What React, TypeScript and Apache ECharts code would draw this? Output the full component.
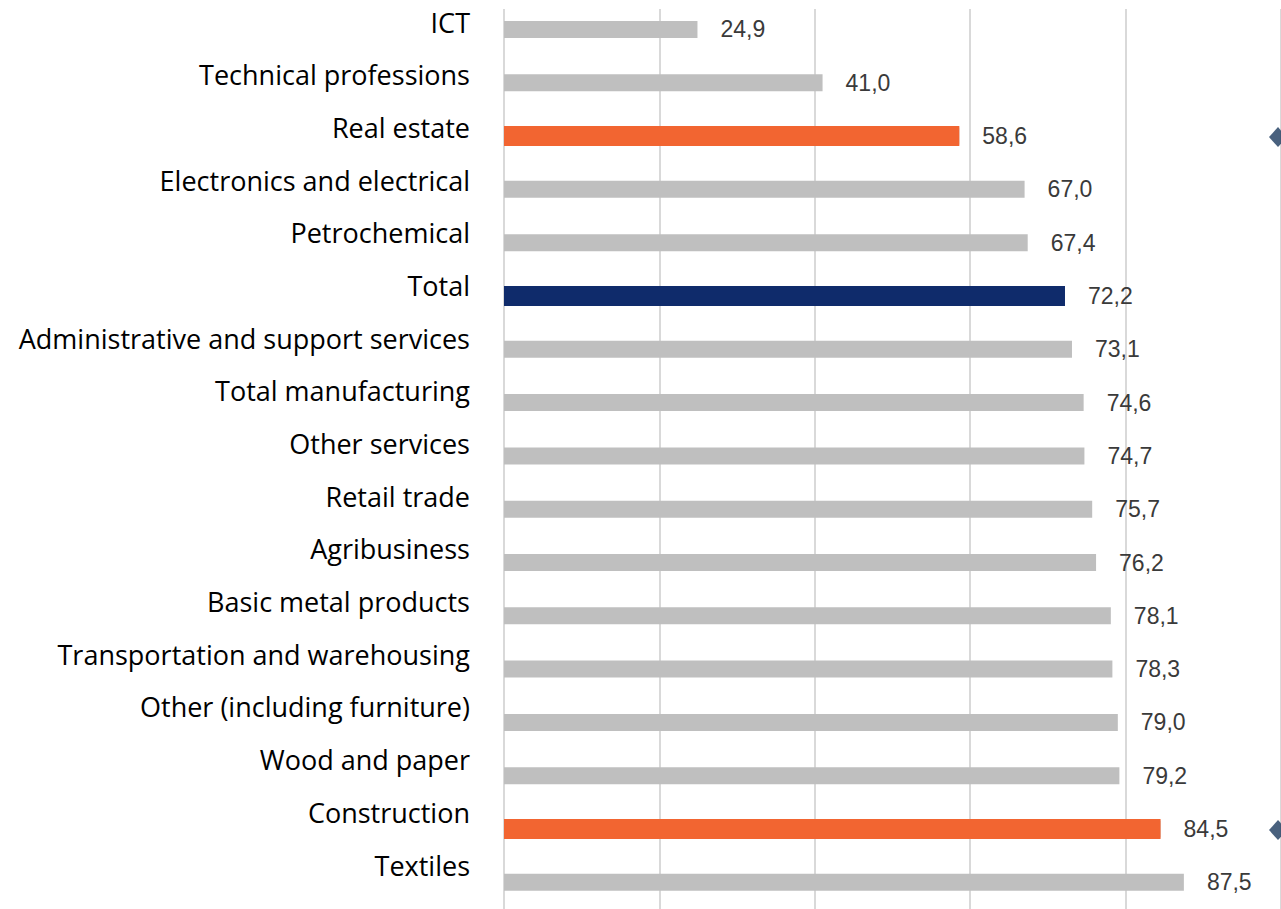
import React, { useEffect, useRef } from "react";
import * as echarts from "echarts";

const categories = [
  "ICT",
  "Technical professions",
  "Real estate",
  "Electronics and electrical",
  "Petrochemical",
  "Total",
  "Administrative and support services",
  "Total manufacturing",
  "Other services",
  "Retail trade",
  "Agribusiness",
  "Basic metal products",
  "Transportation and warehousing",
  "Other (including furniture)",
  "Wood and paper",
  "Construction",
  "Textiles",
];

const values = [
  24.9, 41.0, 58.6, 67.0, 67.4, 72.2, 73.1, 74.6, 74.7, 75.7, 76.2, 78.1, 78.3,
  79.0, 79.2, 84.5, 87.5,
];

const highlightCategories = ["Real estate", "Total", "Construction"];
const highlightColors = ["#f26531", "#0f2b6b", "#f26531"];

const markerCategories = ["Real estate", "Construction"];

const xTicks = [0, 20, 40, 60, 80, 100];

export default function App() {
  const ref = useRef<HTMLDivElement>(null);

  useEffect(() => {
    if (!ref.current) return;
    const chart = echarts.init(ref.current, undefined, { renderer: "svg" });

    const overlayData = categories.map((c, i) => {
      const h = highlightCategories.indexOf(c);
      if (h < 0) return "-";
      return { value: values[i], itemStyle: { color: highlightColors[h] } };
    });

    const markerData = markerCategories.map((c) => [xTicks[xTicks.length - 1], c]);

    chart.setOption({
      animation: false,
      backgroundColor: "#ffffff",
      grid: [
        { left: 504, width: 778, top: 2.8, height: 909, containLabel: false },
        { left: 478, width: 10, top: 22, height: 843, containLabel: false },
      ],
      xAxis: [
        {
          type: "value",
          gridIndex: 0,
          min: xTicks[0],
          max: xTicks[xTicks.length - 1],
          interval: xTicks[1] - xTicks[0],
          axisLine: { show: false },
          axisTick: { show: false },
          axisLabel: { show: false },
          splitLine: { show: true, lineStyle: { color: "#d9d9d9", width: 2 } },
        },
        { type: "value", gridIndex: 1, show: false },
      ],
      yAxis: [
        {
          type: "category",
          gridIndex: 0,
          data: categories,
          inverse: true,
          show: false,
        },
        {
          type: "category",
          gridIndex: 1,
          data: categories,
          inverse: true,
          boundaryGap: false,
          axisLine: { show: false },
          axisTick: { show: false },
          splitLine: { show: false },
          axisLabel: {
            margin: 8,
            color: "#000000",
            fontFamily: "Open Sans",
            fontSize: 27,
            interval: 0,
          },
        },
        {
          type: "category",
          gridIndex: 0,
          data: categories,
          inverse: true,
          show: false,
        },
      ],
      series: [
        {
          type: "bar",
          xAxisIndex: 0,
          yAxisIndex: 0,
          data: values,
          barWidth: 17,
          itemStyle: { color: "#bfbfbf" },
          label: {
            show: true,
            position: "right",
            distance: 23,
            color: "#3a3a3a",
            fontFamily: "Liberation Sans",
            fontSize: 23,
            formatter: (p: any) => Number(p.value).toFixed(1).replace(".", ","),
          },
          z: 2,
        },
        {
          type: "bar",
          xAxisIndex: 0,
          yAxisIndex: 2,
          data: overlayData,
          barWidth: 20,
          z: 3,
        },
        {
          type: "scatter",
          xAxisIndex: 0,
          yAxisIndex: 2,
          data: markerData,
          symbol: "diamond",
          symbolSize: [18, 20],
          symbolOffset: [-3, 1],
          itemStyle: { color: "#1b3a5e" },
          clip: false,
          z: 4,
        },
      ],
      graphic: [
        {
          type: "rect",
          shape: { x: 495, y: 0, width: 786, height: 9 },
          style: { fill: "#ffffff" },
          z: 10,
        },
      ],
    });

    return () => chart.dispose();
  }, []);

  return (
    <div
      ref={ref}
      style={{ position: "fixed", left: 0, top: 0, width: 1281, height: 909 }}
    />
  );
}
